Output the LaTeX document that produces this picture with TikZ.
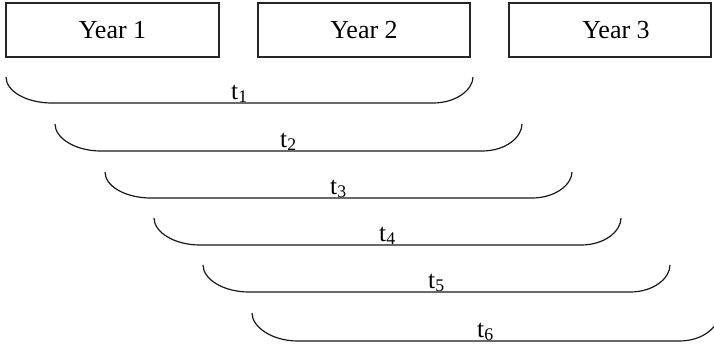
\documentclass[tikz,border=0pt]{standalone}
\usepackage{fontspec}
\setmainfont{Liberation Serif}
\usepackage{tikz}

\begin{document}
\begin{tikzpicture}[x=0.75pt,y=0.75pt,yscale=-1,xscale=1]
\tikzset{
  yearbox/.style={draw=black!85,line width=0.9pt,inner sep=0pt,minimum height=40.5pt,font=\fontsize{19.5}{23}\selectfont},
  tlabel/.style={anchor=base,inner sep=0.75pt,font=\fontsize{19}{22}\selectfont},
  span/.style={draw=black!90,line width=0.9pt}
}
%set diagram size 714 x 347
\useasboundingbox (0,0) rectangle (714,347);
% Year boxes
\node (year1) at (112.5,30) [yearbox,minimum width=159.75pt] {Year 1};
\node (year2) at (364,30) [yearbox,minimum width=159pt] {Year 2};
\node (year3) at (610,30) [yearbox,minimum width=151.5pt] {\hspace{9pt}Year 3};
%Span 1
\draw [span]  (6,77) .. controls (6,91) and (26,103) .. (52,103) -- (433,103) .. controls (457,103) and (473,89) .. (473,77) ;
%Span 2
\draw [span]  (55,124) .. controls (55,138) and (75,151) .. (101,151) -- (482,151) .. controls (506,151) and (522,137) .. (522,124) ;
%Span 3
\draw [span]  (105,172) .. controls (105,186) and (125,198) .. (151,198) -- (532,198) .. controls (556,198) and (572,184) .. (572,172) ;
%Span 4
\draw [span]  (154,218) .. controls (154,232) and (174,245) .. (200,245) -- (581,245) .. controls (605,245) and (621,231) .. (621,218) ;
%Span 5
\draw [span]  (203,265) .. controls (203,279) and (223,292) .. (249,292) -- (630,292) .. controls (654,292) and (670,278) .. (670,265) ;
%Span 6
\draw [span]  (252,313) .. controls (252,327) and (272,341) .. (298,341) -- (679,341) .. controls (703,341) and (719,327) .. (719,313) ;
% Text Node
\node (t1) at (239.5,99) [tlabel] {t\textsubscript{1}};
% Text Node
\node (t2) at (288.5,147) [tlabel] {t\textsubscript{2}};
% Text Node
\node (t3) at (338.5,194) [tlabel] {t\textsubscript{3}};
% Text Node
\node (t4) at (387.5,241) [tlabel] {t\textsubscript{4}};
% Text Node
\node (t5) at (436.5,288) [tlabel] {t\textsubscript{5}};
% Text Node
\node (t6) at (485.5,337) [tlabel] {t\textsubscript{6}};
\end{tikzpicture}
\end{document}
